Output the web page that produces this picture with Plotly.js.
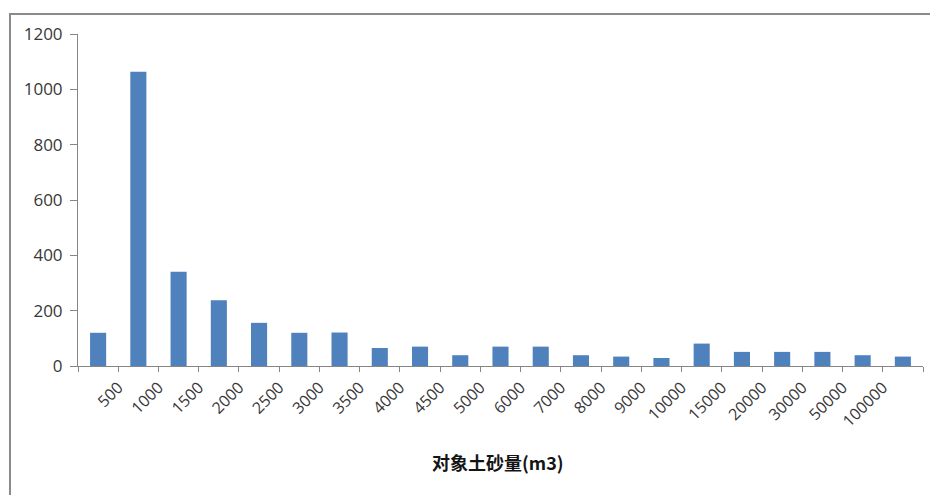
<!DOCTYPE html>
<html>
<head>
<meta charset="utf-8">
<script src="https://cdn.plot.ly/plotly-3.0.1.min.js"></script>
<style>
  html, body { margin: 0; padding: 0; background: #ffffff; }
  #wrap { position: relative; width: 930px; height: 495px; overflow: hidden; }
  #chart { position: absolute; left: 0; top: 0; width: 930px; height: 495px; }
  #frame { position: absolute; left: 9px; top: 13px; width: 940px; height: 500px;
           border-left: 2px solid #8a8a8a; border-top: 2px solid #8a8a8a; pointer-events: none; }
</style>
</head>
<body>
<div id="wrap">
  <div id="chart"></div>
  <div id="frame"></div>
</div>
<script>
// Bin boundary labels (upper edges between bars), m3
const binEdgeLabels = ['500','1000','1500','2000','2500','3000','3500','4000','4500','5000',
                       '6000','7000','8000','9000','10000','15000','20000','30000','50000','100000'];
// Counts per bin (21 bins)
const counts = [120, 1064, 341, 238, 156, 120, 121, 65, 70, 39, 70, 70, 39, 34, 29, 81, 51, 51, 51, 39, 34];
const xTitle = '对象土砂量(m3)';

const binIndex = counts.map((_, i) => i);
const tickPos = [];
const tickText = [];
for (let i = 0; i <= counts.length; i++) {
  tickPos.push(i - 0.5);
  tickText.push(i >= 1 && i <= binEdgeLabels.length ? binEdgeLabels[i - 1] : '');
}

const trace = {
  type: 'bar',
  x: binIndex,
  y: counts,
  width: 0.4,
  marker: { color: '#4f81bd' },
  hoverinfo: 'y'
};

const layout = {
  width: 930, height: 495,
  margin: { l: 78, r: 7, t: 34, b: 129 },
  paper_bgcolor: '#ffffff',
  plot_bgcolor: '#ffffff',
  showlegend: false,
  xaxis: {
    type: 'linear',
    range: [-0.5, counts.length - 0.5],
    tickmode: 'array',
    tickvals: tickPos,
    ticktext: tickText,
    tickangle: -45,
    ticks: 'outside', ticklen: 5, tickcolor: '#868686', tickwidth: 1,
    showline: true, linecolor: '#868686', linewidth: 1,
    showgrid: false, zeroline: false,
    tickfont: { family: 'Open Sans, sans-serif', size: 16, color: '#383838' },
    fixedrange: true
  },
  yaxis: {
    range: [0, 1200],
    tickmode: 'linear', tick0: 0, dtick: 200,
    ticks: 'outside', ticklen: 7, tickcolor: '#868686', tickwidth: 1,
    showline: true, linecolor: '#868686', linewidth: 1,
    showgrid: false, zeroline: false,
    ticklabelstandoff: 4,
    tickfont: { family: 'Open Sans, sans-serif', size: 17, color: '#383838' },
    fixedrange: true
  },
  annotations: [{
    text: '<b>' + xTitle + '</b>',
    xref: 'paper', yref: 'paper',
    x: 0.497, y: -0.29,
    xanchor: 'center', yanchor: 'middle',
    showarrow: false,
    font: { family: 'Noto Sans CJK SC, sans-serif', size: 18, color: '#141414' }
  }]
};

Plotly.newPlot('chart', [trace], layout, { displayModeBar: false, staticPlot: true });
</script>
</body>
</html>
